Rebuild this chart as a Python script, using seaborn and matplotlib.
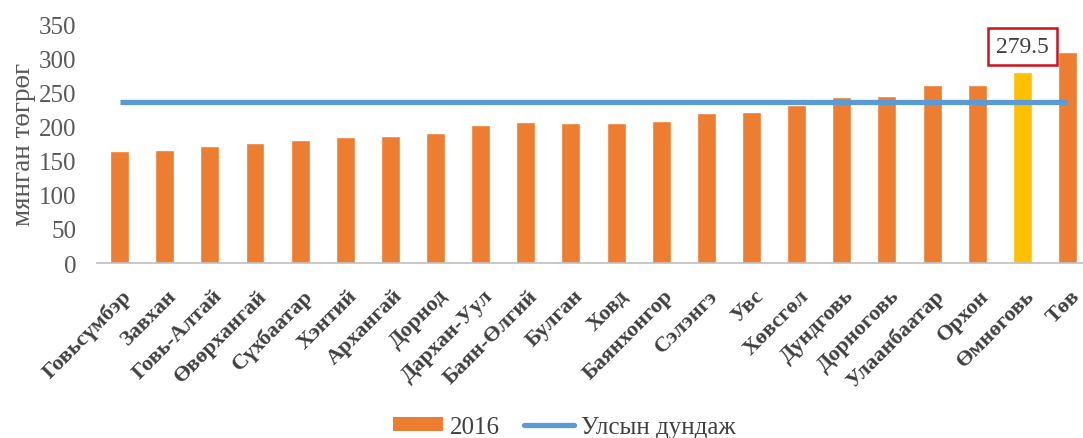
import matplotlib
matplotlib.use("Agg")
import matplotlib.pyplot as plt
import matplotlib.transforms as mtransforms
import seaborn as sns
import numpy as np
from matplotlib.patches import Patch
from matplotlib.lines import Line2D

aimags = ["Говьсүмбэр", "Завхан", "Говь-Алтай", "Өвөрхангай", "Сүхбаатар", "Хэнтий",
          "Архангай", "Дорнод", "Дархан-Уул", "Баян-Өлгий", "Булган", "Ховд",
          "Баянхонгор", "Сэлэнгэ", "Увс", "Хөвсгөл", "Дундговь", "Дорноговь",
          "Улаанбаатар", "Орхон", "Өмнөговь", "Төв"]
values_2016 = [164, 166, 172, 176, 180, 185, 186, 190, 202, 206, 205.6, 205.6,
               208.6, 219, 221.7, 232, 243.7, 245, 261, 261, 279.5, 309.5]
national_avg = 236
highlight = "Өмнөговь"
highlight_label = "279.5"

sns.set_theme(style="white")
plt.rcParams['font.family'] = ['Liberation Serif', 'DejaVu Serif']

fig = plt.figure(figsize=(10.83, 4.39), dpi=100)
ax = fig.add_axes([0.0896, 0.3986, 0.9169, 0.5444])

orange = "#ED7D31"
yellow = "#FFC000"
blue = "#5B9BD5"
colors = [yellow if a == highlight else orange for a in aimags]

sns.barplot(x=aimags, y=values_2016, hue=aimags, palette=colors, legend=False,
            width=0.42, ax=ax, saturation=1)
n = len(aimags)
ax.plot(range(n), [national_avg] * n, color=blue, lw=3.8, solid_capstyle="butt", zorder=3)

ax.set_ylim(0, 350)
ax.set_xlim(-0.5, n - 0.5)
ax.set_yticks(range(0, 351, 50))
ax.tick_params(axis="y", labelsize=18, labelcolor="#595959", length=0, pad=15)
ax.tick_params(axis="x", length=0, pad=16)
ax.set_xticks(range(n))
ax.set_xticklabels(aimags, rotation=45, ha="right", va="top", rotation_mode="anchor",
                   fontsize=16, fontweight="bold", color="#404040")
shift = mtransforms.ScaledTranslation(0.02, 0, fig.dpi_scale_trans)
for lbl in ax.get_xticklabels():
    lbl.set_transform(lbl.get_transform() + shift)
for s in ["top", "right", "left"]:
    ax.spines[s].set_visible(False)
ax.spines["bottom"].set_color("#BFBFBF")
ax.spines["bottom"].set_linewidth(1.2)
ax.set_ylabel("мянган төгрөг", fontsize=19.5, color="#595959", labelpad=2)
ax.set_xlabel("")

hi = aimags.index(highlight)
ax.annotate(highlight_label, xy=(hi, values_2016[hi]), xytext=(0, 11),
            textcoords="offset points", ha="center", va="bottom", fontsize=17,
            color="#404040",
            bbox=dict(boxstyle="square,pad=0.35", fc="white", ec="#D0101A", lw=1.8))

handles = [Patch(facecolor=orange, edgecolor="none"),
           Line2D([0], [0], color=blue, lw=3.8)]
fig.legend(handles, ["2016", "Улсын дундаж"], loc="center",
           bbox_to_anchor=(0.521, 0.025), ncol=2, frameon=False, fontsize=18,
           labelcolor="#404040", handlelength=2.0, handleheight=0.5,
           handletextpad=0.25, columnspacing=1.0)

fig.savefig("out.png", dpi=100)
